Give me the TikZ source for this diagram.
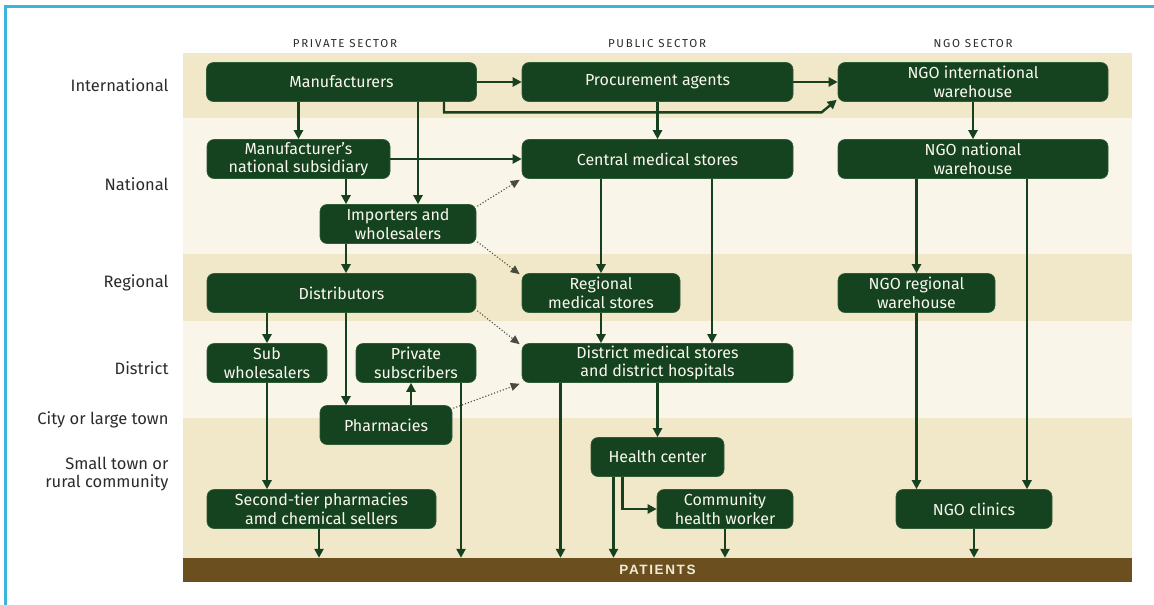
\documentclass[tikz,border=0pt]{standalone}
\usepackage{fontspec}
\setmainfont{Fira Sans}
\newfontfamily\patfont{Liberation Sans}
\usetikzlibrary{arrows.meta}
\usetikzlibrary{calc}
\usetikzlibrary{positioning}

\definecolor{boxgreen}{HTML}{15421F}
\definecolor{boxedge}{HTML}{2E5C35}
\definecolor{boxtext}{HTML}{FAF8EE}
\definecolor{linegreen}{HTML}{17401F}
\definecolor{dotgray}{HTML}{4A4A3E}
\definecolor{labgray}{HTML}{2B2B2B}
\definecolor{banddark}{HTML}{F1E7C9}
\definecolor{bandlight}{HTML}{F9F5E8}
\definecolor{patbrown}{HTML}{6B4F1F}
\definecolor{pattext}{HTML}{F2EBD5}
\definecolor{frameblue}{HTML}{3DB4DC}

\begin{document}
\begin{tikzpicture}[x=1pt,y=-1pt,
  box/.style={rectangle,rounded corners=7pt,fill=boxgreen,draw=boxedge,line width=0.6pt,
    text=boxtext,align=center,minimum height=39pt,inner sep=1pt,
    font=\fontsize{16}{18.5}\selectfont},
  arr/.style={draw=linegreen,line width=2.4pt,-{Triangle[length=9pt,width=9pt]}},
  dotarr/.style={draw=dotgray,line width=1.1pt,dotted,-{Triangle[length=9pt,width=8pt]}},
  rowlab/.style={anchor=east,align=right,text=labgray,font=\fontsize{16.5}{18}\selectfont},
  sectlab/.style={text=labgray,font=\fontsize{11.5}{13}\selectfont\addfontfeature{LetterSpace=15}}]
  \useasboundingbox (0,0) rectangle (1154,605);
  % frame
  \draw[frameblue,line width=3pt] (5,605) -- (5,6) -- (1154,6);
  % bands
  \fill[banddark] (183,53) rectangle (1132,118);
  \fill[bandlight] (183,118) rectangle (1132,254);
  \fill[banddark] (183,254) rectangle (1132,321);
  \fill[bandlight] (183,321) rectangle (1132,418);
  \fill[banddark] (183,418) rectangle (1132,558);
  % headers and rows
  \node[sectlab] (hpriv) at (345,44) {PRIVATE SECTOR};
  \node[sectlab] (hpub) at (657,44) {PUBLIC SECTOR};
  \node[sectlab] (hngo) at (973,44) {NGO SECTOR};
  \node[rowlab] (rint) at (172,85) {International};
  \node[rowlab] (rnat) at (172,184) {National};
  \node[rowlab] (rreg) at (172,283) {Regional};
  \node[rowlab] (rdist) at (172,368) {District};
  \node[rowlab] (rcity) at (172,420) {City or large town};
  \node[rowlab] (rsmall) at (172,474) {Small town or\\rural community};
  % boxes
  \node[box,minimum width=270pt] (manuf) at (341.5,82) {Manufacturers};
  \node[box,minimum width=271pt] (procure) at (657.5,82) {Procurement agents};
  \node[box,minimum width=270pt] (ngoint) at (973,82) {NGO international\\warehouse};
  \node[box,minimum width=183pt] (subsid) at (298.5,159) {Manufacturer’s\\national subsidiary};
  \node[box,minimum width=271pt] (cms) at (657.5,159) {Central medical stores};
  \node[box,minimum width=270pt] (ngonat) at (973,159) {NGO national\\warehouse};
  \node[box,minimum width=156pt] (import) at (398,224) {Importers and\\wholesalers};
  \node[box,minimum width=269pt] (distrib) at (341.5,293) {Distributors};
  \node[box,minimum width=158pt] (rms) at (601,293) {Regional\\medical stores};
  \node[box,minimum width=157pt] (ngoreg) at (916.5,293) {NGO regional\\warehouse};
  \node[box,minimum width=120pt] (subwh) at (267,363) {Sub\\wholesalers};
  \node[box,minimum width=120pt] (privsub) at (416,363) {Private\\subscribers};
  \node[box,minimum width=271pt] (dms) at (657.5,363) {District medical stores\\and district hospitals};
  \node[box,minimum width=132pt] (pharm) at (386,425) {Pharmacies};
  \node[box,minimum width=133pt] (health) at (657.5,457) {Health center};
  \node[box,minimum width=229pt] (second) at (321.5,509) {Second-tier pharmacies\\amd chemical sellers};
  \node[box,minimum width=136pt] (chw) at (725,509) {Community\\health worker};
  \node[box,minimum width=156pt] (ngoclin) at (974,509) {NGO clinics};
  \node[fill=patbrown,minimum width=949pt,minimum height=24pt,inner sep=0pt,text=pattext,
    font=\patfont\bfseries\fontsize{13.5}{15}\selectfont\addfontfeature{LetterSpace=12}]
    (patients) at (657.5,570) {PATIENTS};
  % international level
  \draw[arr] (manuf.east) -- (procure.west);
  \draw[arr] (procure.east) -- (ngoint.west);
  \draw[arr] ([xshift=102.5pt]manuf.south) |- ([xshift=-16pt,yshift=-10.5pt]ngoint.south west)
    -- ([xshift=-1pt,yshift=2pt]ngoint.south west);
  \draw[arr] (subsid.north |- manuf.south) -- (subsid.north);
  \draw[arr] ([xshift=20pt]import.north |- manuf.south) -- ([xshift=20pt]import.north);
  \draw[arr] (procure.south) -- (cms.north);
  \draw[arr] (ngoint.south) -- (ngonat.north);
  % national level
  \draw[arr] (subsid.east) -- (cms.west);
  \draw[arr] ([xshift=-52pt]import.north |- subsid.south) -- ([xshift=-52pt]import.north);
  \draw[arr] ([xshift=-52pt]import.south) -- ([xshift=-52pt]import.south |- distrib.north);
  \draw[dotarr] ([xshift=1pt,yshift=-2pt]import.north east) -- ([xshift=-2pt,yshift=-1pt]cms.south west);
  \draw[dotarr] ([xshift=1pt,yshift=2pt]import.south east) -- ([xshift=-2pt,yshift=-1pt]rms.north west);
  \draw[arr] (rms.north |- cms.south) -- (rms.north);
  \draw[arr] ([xshift=54.5pt]dms.north |- cms.south) -- ([xshift=54.5pt]dms.north);
  \draw[arr] (ngoreg.north |- ngonat.south) -- (ngoreg.north);
  \draw[arr] ([xshift=53pt]ngoclin.north |- ngonat.south) -- ([xshift=53pt]ngoclin.north);
  % regional level
  \draw[arr] (subwh.north |- distrib.south) -- (subwh.north);
  \draw[arr] ([xshift=-40pt]pharm.north |- distrib.south) -- ([xshift=-40pt]pharm.north);
  \draw[dotarr] ([xshift=1pt,yshift=2pt]distrib.south east) -- ([xshift=-2pt,yshift=-1pt]dms.north west);
  \draw[arr] (rms.south) -- (rms.south |- dms.north);
  \draw[arr] (ngoreg.south) -- (ngoreg.south |- ngoclin.north);
  % district and below
  \draw[arr] (subwh.south) -- (subwh.south |- second.north);
  \draw[arr] ([xshift=-5pt]privsub.south |- pharm.north) -- ([xshift=-5pt]privsub.south);
  \draw[dotarr] ([xshift=1pt,yshift=-3pt]pharm.north east) -- ([xshift=-2pt,yshift=-1pt]dms.south west);
  \draw[arr] (dms.south) -- (health.north);
  \draw[arr] ([xshift=-35pt]health.south) |- (chw.west);
  % to patients
  \draw[arr] ([xshift=-2.5pt]second.south) -- ([xshift=-2.5pt]second.south |- patients.north);
  \draw[arr] ([xshift=45pt]privsub.south) -- ([xshift=45pt]privsub.south |- patients.north);
  \draw[arr] ([xshift=-97pt]dms.south) -- ([xshift=-97pt]dms.south |- patients.north);
  \draw[arr] ([xshift=-44pt]health.south) -- ([xshift=-44pt]health.south |- patients.north);
  \draw[arr] (chw.south) -- (chw.south |- patients.north);
  \draw[arr] (ngoclin.south) -- (ngoclin.south |- patients.north);
\end{tikzpicture}
\end{document}
